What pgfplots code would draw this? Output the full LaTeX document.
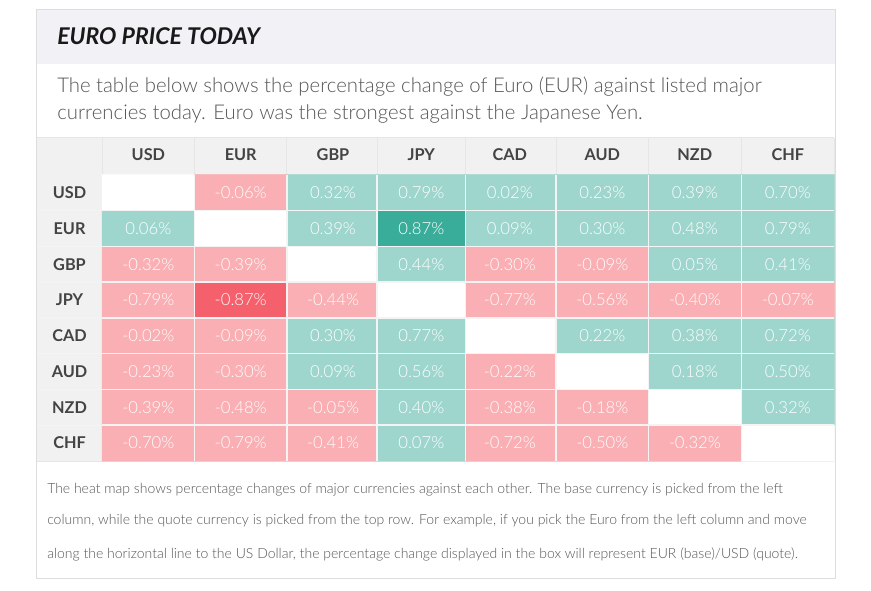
\documentclass[border=0pt]{standalone}
\usepackage{pgfplots}
\pgfplotsset{compat=1.18}
\usepackage{pgfplotstable}
\usepackage{fontspec}
\setmainfont{Lato}
\IfFontExistsTF{Lato Light}{\newfontfamily\lightfont{Lato Light}}{\newfontfamily\lightfont{Lato}}
\definecolor{tealL}{HTML}{9ED6CD}
\definecolor{tealD}{HTML}{3AAD9A}
\definecolor{pinkL}{HTML}{F9AFB3}
\definecolor{redD}{HTML}{F4606C}
\definecolor{hdrbg}{HTML}{F1F1F1}
\definecolor{titlebg}{HTML}{F2F2F6}
\definecolor{cardline}{HTML}{DDDDDD}
\definecolor{sepc}{HTML}{E6E6E6}
\definecolor{txt}{HTML}{555555}
\definecolor{hdrtxt}{HTML}{444444}
\definecolor{gridc}{HTML}{F4F4F4}

% x = column centre (px), y = -(row centre) (px), v = % change base(row)/quote(column)
\pgfplotstableread{
x y v
148.35 -192.59 0
240.7 -192.59 -0.06
333.0 -192.59 0.32
421.3 -192.59 0.79
509.8 -192.59 0.02
602.3 -192.59 0.23
694.8 -192.59 0.39
787.8 -192.59 0.70
148.35 -228.38 0.06
240.7 -228.38 0
333.0 -228.38 0.39
421.3 -228.38 0.87
509.8 -228.38 0.09
602.3 -228.38 0.30
694.8 -228.38 0.48
787.8 -228.38 0.79
148.35 -264.17 -0.32
240.7 -264.17 -0.39
333.0 -264.17 0
421.3 -264.17 0.44
509.8 -264.17 -0.30
602.3 -264.17 -0.09
694.8 -264.17 0.05
787.8 -264.17 0.41
148.35 -299.96 -0.79
240.7 -299.96 -0.87
333.0 -299.96 -0.44
421.3 -299.96 0
509.8 -299.96 -0.77
602.3 -299.96 -0.56
694.8 -299.96 -0.40
787.8 -299.96 -0.07
148.35 -335.74 -0.02
240.7 -335.74 -0.09
333.0 -335.74 0.30
421.3 -335.74 0.77
509.8 -335.74 0
602.3 -335.74 0.22
694.8 -335.74 0.38
787.8 -335.74 0.72
148.35 -371.53 -0.23
240.7 -371.53 -0.30
333.0 -371.53 0.09
421.3 -371.53 0.56
509.8 -371.53 -0.22
602.3 -371.53 0
694.8 -371.53 0.18
787.8 -371.53 0.50
148.35 -407.32 -0.39
240.7 -407.32 -0.48
333.0 -407.32 -0.05
421.3 -407.32 0.40
509.8 -407.32 -0.38
602.3 -407.32 -0.18
694.8 -407.32 0
787.8 -407.32 0.32
148.35 -443.11 -0.70
240.7 -443.11 -0.79
333.0 -443.11 -0.41
421.3 -443.11 0.07
509.8 -443.11 -0.72
602.3 -443.11 -0.50
694.8 -443.11 -0.32
787.8 -443.11 0
}\heat

\begin{document}
\begin{tikzpicture}
\begin{axis}[
  scale only axis,
  width=549.094pt, height=214.725pt,
  xmin=102.175, xmax=834.3, ymin=-461, ymax=-174.7,
  clip=false,
  axis on top,
  axis line style={draw=none},
  major tick length=0pt, minor tick length=0pt,
  xtick={148.35,240.7,333.0,421.3,509.8,602.3,694.8,787.8},
  xticklabels={USD,EUR,GBP,JPY,CAD,AUD,NZD,CHF},
  xticklabel pos=upper,
  ytick={-443.11,-407.32,-371.53,-335.74,-299.96,-264.17,-228.38,-192.59},
  yticklabels={CHF,NZD,AUD,CAD,JPY,GBP,EUR,USD},
  minor xtick={194.525,286.85,377.15,465.55,556.05,648.55,741.3},
  minor ytick={-210.49,-246.28,-282.06,-317.85,-353.64,-389.43,-425.21},
  xminorgrids=true, yminorgrids=true,
  xmajorgrids=false, ymajorgrids=false,
  minor grid style={draw=gridc, line width=1.1pt},
  xticklabel style={font=\bfseries\fontsize{12.2pt}{12.2pt}\selectfont, text=hdrtxt, anchor=base, yshift=10.3pt, inner sep=0pt},
  yticklabel style={font=\bfseries\fontsize{12.2pt}{12.2pt}\selectfont, text=hdrtxt, anchor=center, xshift=-24.5pt, inner sep=0pt},
  colormap={cells}{color=(redD) color=(pinkL) color=(white) color=(tealL) color=(tealD)},
  colormap access=direct,
]
% card and backgrounds
\fill[titlebg] (axis cs:37,-10) rectangle (axis cs:835,-64);
\fill[hdrbg] (axis cs:37,-138) rectangle (axis cs:834.3,-174.7);
\fill[hdrbg] (axis cs:37,-174.7) rectangle (axis cs:102.175,-461);
\draw[cardline, line width=0.75pt] (axis cs:36.5,-9.5) rectangle (axis cs:835.5,-578.5);
% header separators
\draw[sepc, line width=0.75pt] (axis cs:102.175,-138) -- (axis cs:102.175,-174.7);
\draw[sepc, line width=0.75pt] (axis cs:194.525,-138) -- (axis cs:194.525,-174.7);
\draw[sepc, line width=0.75pt] (axis cs:286.85,-138) -- (axis cs:286.85,-174.7);
\draw[sepc, line width=0.75pt] (axis cs:377.15,-138) -- (axis cs:377.15,-174.7);
\draw[sepc, line width=0.75pt] (axis cs:465.55,-138) -- (axis cs:465.55,-174.7);
\draw[sepc, line width=0.75pt] (axis cs:556.05,-138) -- (axis cs:556.05,-174.7);
\draw[sepc, line width=0.75pt] (axis cs:648.55,-138) -- (axis cs:648.55,-174.7);
\draw[sepc, line width=0.75pt] (axis cs:741.3,-138) -- (axis cs:741.3,-174.7);
\draw[sepc, line width=0.75pt] (axis cs:37,-138) -- (axis cs:834.3,-138);
% label column separators
\draw[gridc, line width=0.75pt] (axis cs:37,-210.49) -- (axis cs:102.175,-210.49);
\draw[gridc, line width=0.75pt] (axis cs:37,-246.28) -- (axis cs:102.175,-246.28);
\draw[gridc, line width=0.75pt] (axis cs:37,-282.06) -- (axis cs:102.175,-282.06);
\draw[gridc, line width=0.75pt] (axis cs:37,-317.85) -- (axis cs:102.175,-317.85);
\draw[gridc, line width=0.75pt] (axis cs:37,-353.64) -- (axis cs:102.175,-353.64);
\draw[gridc, line width=0.75pt] (axis cs:37,-389.43) -- (axis cs:102.175,-389.43);
\draw[gridc, line width=0.75pt] (axis cs:37,-425.21) -- (axis cs:102.175,-425.21);
% table bottom/right lines
\draw[sepc, line width=0.75pt] (axis cs:37,-461.3) -- (axis cs:834.3,-461.3);
\draw[sepc, line width=0.75pt] (axis cs:834.6,-138) -- (axis cs:834.6,-461.3);

% heat map cells
\addplot[matrix plot*, shader=flat corner, mesh/cols=8, mesh/rows=8,
  point meta={\thisrow{v}>0.85 ? 4 : (\thisrow{v}>0.001 ? 3 : (\thisrow{v}<-0.85 ? 0 : (\thisrow{v}<-0.001 ? 1 : 2)))}]
  table[x=x, y=y] {\heat};
% value labels
\addplot[draw=none, mark=none, point meta=explicit,
  x filter/.expression={abs(\thisrow{v})<0.001 ? nan : x},
  nodes near coords={\pgfmathprintnumber[fixed,fixed zerofill,precision=2,assume math mode=true]{\pgfplotspointmeta}\%},
  nodes near coords align=center,
  every node near coord/.append style={anchor=center, text=white, inner sep=0pt, font=\lightfont\fontsize{12.5pt}{12.5pt}\selectfont}]
  table[x=x, y=y, meta=v] {\heat};

% texts
\node[anchor=base west, inner sep=0pt, text=black!90, font=\bfseries\itshape\fontsize{17.3pt}{17.3pt}\selectfont] at (axis cs:57,-44.5) {EURO PRICE TODAY};
\node[anchor=base west, inner sep=0pt, text=txt, font=\lightfont\fontsize{15.25pt}{15.25pt}\selectfont] at (axis cs:57,-93) {The table below shows the percentage change of Euro (EUR) against listed major};
\node[anchor=base west, inner sep=0pt, text=txt, font=\lightfont\fontsize{15.25pt}{15.25pt}\selectfont] at (axis cs:57,-120) {currencies today. Euro was the strongest against the Japanese Yen.};
\node[anchor=base west, inner sep=0pt, text=txt, font=\lightfont\fontsize{10.5pt}{10.5pt}\selectfont] at (axis cs:47,-493.3) {The heat map shows percentage changes of major currencies against each other. The base currency is picked from the left};
\node[anchor=base west, inner sep=0pt, text=txt, font=\lightfont\fontsize{10.5pt}{10.5pt}\selectfont] at (axis cs:47,-525) {column, while the quote currency is picked from the top row. For example, if you pick the Euro from the left column and move};
\node[anchor=base west, inner sep=0pt, text=txt, font=\lightfont\fontsize{10.5pt}{10.5pt}\selectfont] at (axis cs:47,-558.3) {along the horizontal line to the US Dollar, the percentage change displayed in the box will represent EUR (base)/USD (quote).};

\coordinate (bbA) at (axis cs:0,0);
\coordinate (bbB) at (axis cs:871,-591);
\end{axis}
\pgfresetboundingbox
\path[use as bounding box] (bbA) rectangle (bbB);
\end{tikzpicture}
\end{document}
